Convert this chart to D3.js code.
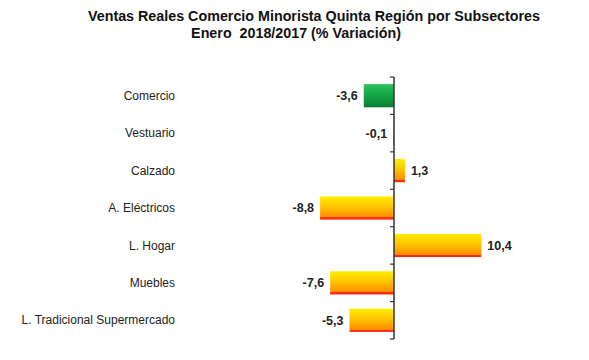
<!DOCTYPE html>
<html><head><meta charset="utf-8">
<script src="https://cdn.jsdelivr.net/npm/d3@7"></script>
<style>body{margin:0;background:#fff;}svg{display:block;font-family:"Liberation Sans",Arial,sans-serif;}text{white-space:pre;}</style>
</head><body><svg id="c" width="589" height="360"></svg>
<script>
const categories = ["Comercio","Vestuario","Calzado","A. Eléctricos","L. Hogar","Muebles","L. Tradicional Supermercado"];
const values = [-3.6,-0.1,1.3,-8.8,10.4,-7.6,-5.3];
const labels = ["-3,6","-0,1","1,3","-8,8","10,4","-7,6","-5,3"];
const titleLines = ["Ventas Reales Comercio Minorista Quinta Región por Subsectores","Enero  2018/2017 (% Variación)"];

const svg = d3.select("#c");
const defs = svg.append("defs");
const gy = defs.append("linearGradient").attr("id","gy").attr("x1",0).attr("y1",0).attr("x2",0).attr("y2",1);
gy.append("stop").attr("offset","0%").attr("stop-color","#FFEE00");
gy.append("stop").attr("offset","45%").attr("stop-color","#FFC400");
gy.append("stop").attr("offset","90%").attr("stop-color","#FF8C00");
gy.append("stop").attr("offset","91%").attr("stop-color","#FF3010");
gy.append("stop").attr("offset","100%").attr("stop-color","#FF2010");
const gg = defs.append("linearGradient").attr("id","gg").attr("x1",0).attr("y1",0).attr("x2",0).attr("y2",1);
gg.append("stop").attr("offset","0%").attr("stop-color","#2EC25A");
gg.append("stop").attr("offset","50%").attr("stop-color","#12A446");
gg.append("stop").attr("offset","100%").attr("stop-color","#0B7E33");

const x = d3.scaleLinear().domain([-10,12]).range([310,494.8]);
const y = d3.scaleBand().domain(categories).range([77,339]).paddingInner(0.38).paddingOuter(0.19);

const t = svg.append("g").attr("font-weight","bold").attr("font-size","14.3px").attr("fill","#111");
t.append("text").attr("x",314).attr("y",21).attr("text-anchor","middle").text(titleLines[0]);
t.append("text").attr("x",296).attr("y",38).attr("text-anchor","middle").text(titleLines[1]);

svg.append("g").selectAll("rect").data(values).join("rect")
  .attr("x",(d)=>x(Math.min(0,d)))
  .attr("y",(d,i)=>y(categories[i]))
  .attr("width",(d)=>Math.max(1,Math.abs(x(d)-x(0))))
  .attr("height",y.bandwidth())
  .attr("fill",(d,i)=>i===0?"url(#gg)":"url(#gy)");

// category labels
svg.append("g").attr("font-size","12px").attr("fill","#222").selectAll("text").data(categories).join("text")
  .attr("x",175).attr("y",d=>y(d)+y.bandwidth()/2).attr("dy","0.35em").attr("text-anchor","end").text(d=>d);

// value labels
svg.append("g").attr("font-size","12.5px").attr("font-weight","bold").attr("fill","#222").selectAll("text").data(values).join("text")
  .attr("x",d=>d<0?x(d)-6:x(d)+6)
  .attr("y",(d,i)=>y(categories[i])+y.bandwidth()/2)
  .attr("dy","0.35em")
  .attr("text-anchor",d=>d<0?"end":"start")
  .text((d,i)=>labels[i]);

// axis
const step = y.step();
const ticks = d3.range(categories.length+1).map(i=>77+i*step);
const ax = svg.append("g").attr("stroke","#333");
ax.append("line").attr("x1",x(0)).attr("x2",x(0)).attr("y1",77).attr("y2",339).attr("stroke-width",1.5);
ax.selectAll("line.t").data(ticks).join("line").attr("class","t")
  .attr("x1",x(0)-4).attr("x2",x(0)).attr("y1",d=>d).attr("y2",d=>d).attr("stroke-width",1.2);
</script></body></html>
